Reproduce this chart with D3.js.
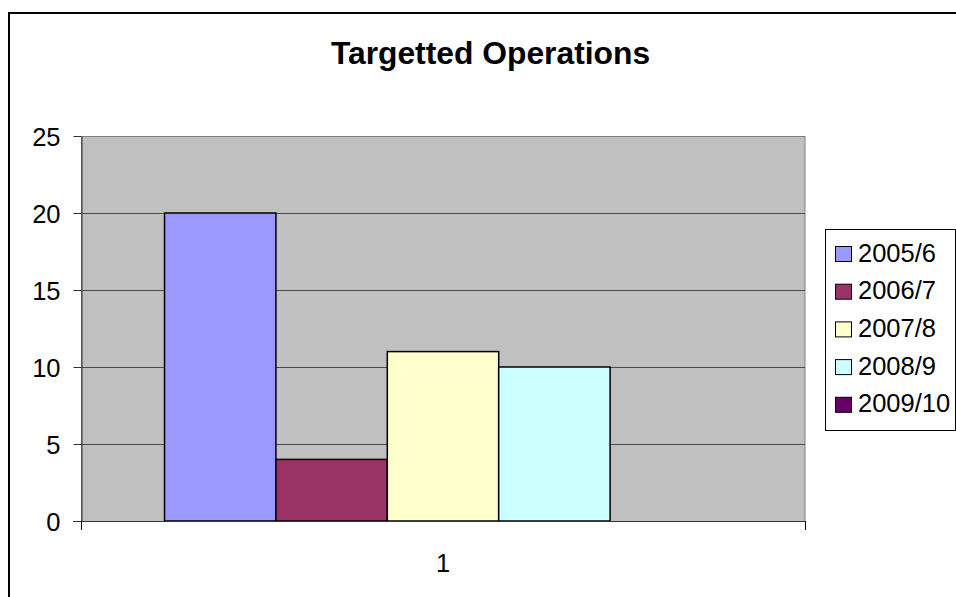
<!DOCTYPE html>
<html>
<head>
<meta charset="utf-8">
<script src="https://cdn.jsdelivr.net/npm/d3@7"></script>
<style>
  html, body { margin: 0; padding: 0; background: #fff; }
  svg { display: block; font-family: "Liberation Sans", Arial, sans-serif; }
</style>
</head>
<body>
<svg id="chart" width="956" height="597"></svg>
<script>
const title = "Targetted Operations";
const categories = ["1"];
const seriesNames = ["2005/6", "2006/7", "2007/8", "2008/9", "2009/10"];
const seriesValues = [20, 4, 11, 10, 0];
const seriesColors = ["#9999FF", "#993366", "#FFFFCC", "#CCFFFF", "#660066"];
const yTicks = [0, 5, 10, 15, 20, 25];

const svg = d3.select("#chart");
const plot = { left: 81, right: 805, top: 136, bottom: 521 };

// outer chart border (extends past the window on right and bottom)
svg.append("rect")
  .attr("x", 9).attr("y", 13).attr("width", 1000).attr("height", 700)
  .attr("fill", "#fff").attr("stroke", "#000").attr("stroke-width", 2);

// title
svg.append("text")
  .attr("x", 490.5).attr("y", 63.5)
  .attr("text-anchor", "middle")
  .attr("font-weight", "bold").attr("font-size", "31.8px")
  .text(title);

const y = d3.scaleLinear().domain([0, 25]).range([plot.bottom, plot.top]);
const x0 = d3.scaleBand().domain(categories).range([plot.left, plot.right]).padding(0);
const bw = x0.bandwidth();
const barW = bw / (seriesNames.length + 1.5);
const x1 = d3.scaleBand().domain(seriesNames).range([0.75 * barW, bw - 0.75 * barW]).padding(0);

// plot area
svg.append("rect")
  .attr("x", plot.left + 0.5).attr("y", plot.top + 0.5)
  .attr("width", plot.right - plot.left - 0.5).attr("height", plot.bottom - plot.top)
  .attr("fill", "#C0C0C0").attr("stroke", "#808080").attr("stroke-width", 1);

// gridlines
svg.append("g").selectAll("line")
  .data(yTicks.filter(d => d > 0 && d < 25))
  .join("line")
  .attr("x1", plot.left).attr("x2", plot.right)
  .attr("y1", d => Math.round(y(d)) + 0.5).attr("y2", d => Math.round(y(d)) + 0.5)
  .attr("stroke", "#4a4a4a").attr("stroke-width", 1);

// bars
const g = svg.append("g");
categories.forEach(cat => {
  g.selectAll("rect.bar")
    .data(seriesNames.map((s, i) => ({ s, v: seriesValues[i], c: seriesColors[i] })))
    .join("rect")
    .attr("class", "bar")
    .attr("x", d => x0(cat) + x1(d.s))
    .attr("y", d => y(d.v))
    .attr("width", x1.bandwidth())
    .attr("height", d => y(0) - y(d.v))
    .attr("fill", d => d.c)
    .attr("stroke", "#000").attr("stroke-width", d => d.v > 0 ? 1.5 : 0);
});

// y axis
const yAxis = d3.axisLeft(y).tickValues(yTicks).tickSizeInner(8).tickSizeOuter(0).tickPadding(13);
const ya = svg.append("g").attr("transform", `translate(${plot.left + 0.5},0)`).call(yAxis);
ya.select(".domain").attr("stroke", "#333");
ya.selectAll(".tick line").attr("stroke", "#333");
ya.selectAll(".tick text")
  .attr("font-size", "25.5px").attr("fill", "#000")
  .attr("font-family", "'Liberation Sans', Arial, sans-serif")
  .attr("dy", "0.36em");
ya.selectAll(".tick").attr("transform", d => `translate(0,${Math.round(y(d)) + 0.5})`);

// x axis line and boundary ticks
svg.append("line")
  .attr("x1", plot.left - 8).attr("x2", plot.right)
  .attr("y1", plot.bottom + 0.5).attr("y2", plot.bottom + 0.5)
  .attr("stroke", "#333");
const bounds = [];
categories.forEach(c => { bounds.push(x0(c)); bounds.push(x0(c) + bw); });
svg.append("g").selectAll("line")
  .data(bounds)
  .join("line")
  .attr("x1", d => Math.round(d) + 0.5).attr("x2", d => Math.round(d) + 0.5)
  .attr("y1", plot.bottom).attr("y2", plot.bottom + 9)
  .attr("stroke", "#000");
svg.append("g").selectAll("text")
  .data(categories)
  .join("text")
  .attr("x", d => x0(d) + bw / 2).attr("y", 572)
  .attr("text-anchor", "middle").attr("font-size", "25.5px")
  .text(d => d);

// legend
const lg = svg.append("g");
lg.append("rect")
  .attr("x", 825.5).attr("y", 229.5).attr("width", 130).attr("height", 201)
  .attr("fill", "#fff").attr("stroke", "#000").attr("stroke-width", 1);
const rows = lg.selectAll("g.row")
  .data(seriesNames.map((s, i) => ({ s, c: seriesColors[i], i })))
  .join("g").attr("class", "row")
  .attr("transform", d => `translate(0,${254 + d.i * 37.7})`);
rows.append("rect")
  .attr("x", 835.5).attr("y", -7.5).attr("width", 16).attr("height", 15)
  .attr("fill", d => d.c).attr("stroke", "#000").attr("stroke-width", 1);
rows.append("text")
  .attr("x", 858).attr("y", -1.5).attr("dy", "0.36em")
  .attr("font-size", "25.5px")
  .text(d => d.s);
</script>
</body>
</html>
